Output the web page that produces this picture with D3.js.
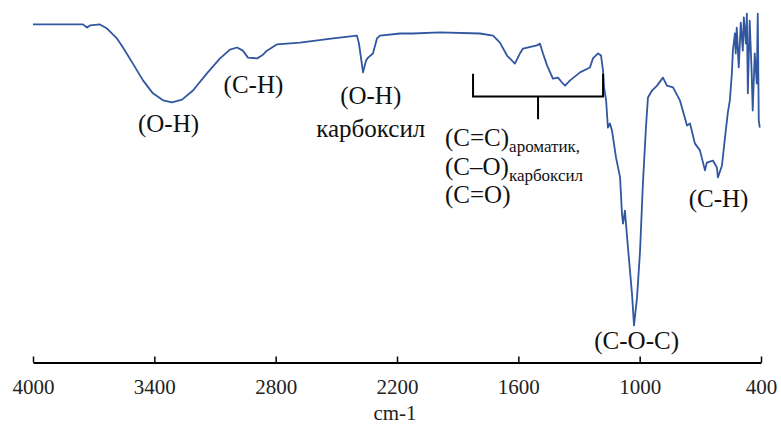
<!DOCTYPE html>
<html>
<head>
<meta charset="utf-8">
<script src="https://cdn.jsdelivr.net/npm/d3@7"></script>
</head>
<body style="margin:0">
<div id="chart"></div>
<script>
// wavenumber, cm-1
var wavenumber = [4000, 3753, 3733, 3718, 3669, 3634, 3585, 3555, 3506, 3456, 3407, 3357, 3313, 3263, 3209, 3140,
  3075, 3026, 2991, 2962, 2937, 2892, 2868, 2843, 2793, 2680, 2516, 2398, 2388, 2368, 2353, 2343, 2319, 2299, 2284,
  2185, 2121, 1987, 1790, 1725, 1691, 1656, 1617, 1592, 1577, 1508, 1493, 1478, 1458, 1429, 1404, 1384, 1369, 1344,
  1295, 1246, 1231, 1206, 1191, 1181, 1176, 1166, 1157, 1152, 1147, 1137, 1117, 1097, 1087, 1082, 1073, 1058, 1038,
  1028, 1013, 998, 984, 969, 959, 939, 914, 885, 865, 835, 801, 766, 751, 727, 702, 677, 668, 638, 618, 613, 593,
  578, 564, 554, 544, 539, 529, 525, 520, 510, 500, 490, 485, 475, 470, 465, 456, 446, 441, 431, 421, 416, 411, 406];
// transmittance, %
var transmittance = [96.6, 96.6, 95.7, 96.3, 96.6, 95.4, 92.6, 90.0, 85.4, 80.6, 76.9, 74.9, 74.3, 75.1, 77.7, 82.6,
  86.9, 89.4, 90.0, 89.1, 87.1, 86.9, 87.7, 89.1, 90.9, 91.4, 92.6, 93.4, 91.1, 82.9, 86.3, 87.1, 88.3, 92.6, 93.4,
  94.0, 94.0, 94.3, 94.0, 93.4, 91.4, 87.7, 85.4, 88.3, 89.7, 90.6, 91.1, 88.3, 84.9, 81.1, 81.4, 80.0, 79.1, 80.6,
  82.9, 84.3, 86.9, 88.3, 87.7, 83.4, 78.6, 74.9, 67.1, 67.7, 68.3, 66.3, 58.6, 52.9, 42.0, 39.7, 43.4, 32.9, 19.7,
  10.6, 18.6, 32.0, 51.1, 67.1, 75.7, 77.7, 79.1, 81.4, 79.1, 78.6, 74.9, 67.7, 68.3, 62.6, 60.6, 54.9, 57.1, 57.7, 55.7, 52.9, 56.3,
  64.3, 71.4, 74.9, 82.6, 89.1, 94.0, 88.3, 95.7, 84.3, 97.1, 89.1, 98.6, 91.1, 99.7, 76.9, 97.7, 82.6, 72.0, 88.3, 79.7, 99.7, 69.1, 67.1];

var xTicks = [4000, 3400, 2800, 2200, 1600, 1000, 400];
var xTitle = "cm-1";

// band labels: text, wavenumber position, transmittance position
var bandLabels = [
  {text: "(O-H)", w: 3330, t: 66},
  {text: "(C-H)", w: 2910, t: 77},
  {text: "(O-H)", w: 2330, t: 74},
  {text: "карбоксил", w: 2330, t: 64.5},
  {text: "(C-O-C)", w: 1015, t: 3.8},
  {text: "(C-H)", w: 610, t: 44.5}
];
var bracketRange = [1824, 1181];
var groupLines = [
  {main: "(C=C)", sub: "ароматик,"},
  {main: "(C–O)", sub: "карбоксил"},
  {main: "(C=O)", sub: ""}
];

var width = 781, height = 425;
var serifFace = "Liberation Serif";

function serif(sel){
  sel.attr("font-family", serifFace).style("font-family", serifFace, "important");
}

var svg = d3.select("#chart").append("svg")
  .attr("width", width)
  .attr("height", height)
  .call(serif);

var x = d3.scaleLinear().domain([4000, 400]).range([33, 761]);
var y = d3.scaleLinear().domain([0, 100]).range([362.5, 12.5]);

var data = wavenumber.map(function(w, i){ return [w, transmittance[i]]; });

var line = d3.line()
  .x(function(d){ return x(d[0]); })
  .y(function(d){ return y(d[1]); });

svg.append("path")
  .datum(data)
  .attr("d", line)
  .attr("fill", "none")
  .attr("stroke", "#3157a0")
  .attr("stroke-width", 1.8)
  .attr("stroke-linejoin", "round");

// x axis, ticks pointing up
var xAxis = d3.axisBottom(x).tickValues(xTicks).tickFormat(d3.format("d"))
  .tickSizeInner(-6).tickSizeOuter(0);
var gx = svg.append("g")
  .attr("transform", "translate(0," + y(0) + ")")
  .call(xAxis);
gx.call(serif).attr("font-size", 21);
gx.select(".domain").attr("stroke", "#000").attr("stroke-width", 2);
gx.selectAll(".tick line").attr("stroke", "#000").attr("stroke-width", 1.5);
gx.selectAll(".tick text")
  .call(serif)
  .attr("fill", "#222")
  .attr("font-size", 21)
  .attr("y", 31).attr("dy", 0);

svg.append("text")
  .attr("x", x(2200) - 2)
  .attr("y", 420)
  .attr("text-anchor", "middle")
  .attr("fill", "#222")
  .attr("font-size", 21)
  .call(serif)
  .text(xTitle);

// band labels
svg.selectAll(".band")
  .data(bandLabels)
  .enter().append("text")
  .attr("class", "band")
  .attr("x", function(d){ return x(d.w); })
  .attr("y", function(d){ return y(d.t); })
  .attr("text-anchor", "middle")
  .attr("fill", "#111")
  .attr("font-size", 25)
  .call(serif)
  .text(function(d){ return d.text; });

// bracket for the 1824-1181 region
var bx1 = x(bracketRange[0]), bx2 = x(bracketRange[1]);
var bm = (bx1 + bx2) / 2;
svg.append("path")
  .attr("d", "M" + bx1 + "," + y(82.5) + "V" + y(76) + "H" + bx2 + "V" + y(82.5) +
             "M" + bm + "," + y(76) + "V" + y(69.5))
  .attr("fill", "none")
  .attr("stroke", "#000")
  .attr("stroke-width", 2);

groupLines.forEach(function(g, i){
  var t = svg.append("text")
    .attr("x", 445)
    .attr("y", 146 + i * 28.5)
    .attr("fill", "#111")
    .attr("font-size", 25)
    .call(serif);
  t.append("tspan").call(serif).text(g.main);
  if (g.sub) {
    t.append("tspan").call(serif).attr("dy", 6).attr("font-size", 17).text(g.sub);
  }
});
</script>
</body>
</html>
